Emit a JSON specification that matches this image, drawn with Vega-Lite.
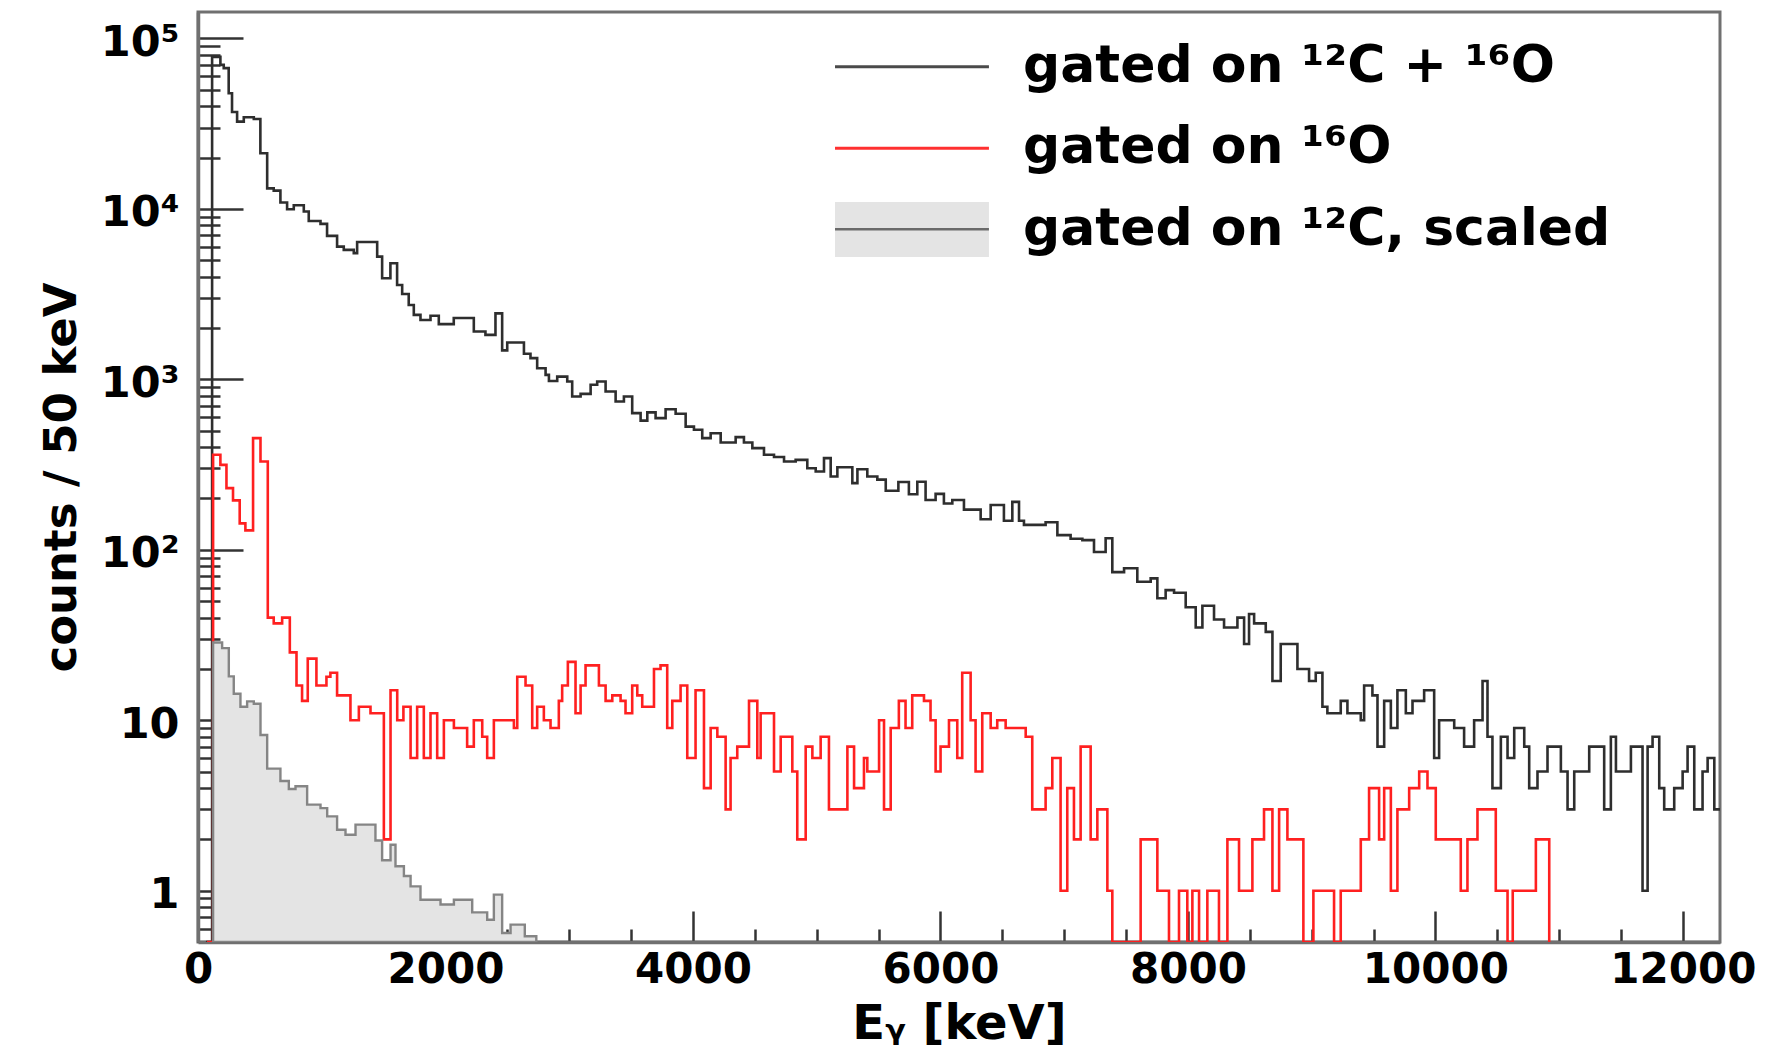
{
  "$schema": "https://vega.github.io/schema/vega-lite/v6.json",
  "width": 1522,
  "height": 930,
  "autosize": {"type": "none"},
  "padding": {"left": 198, "top": 12, "right": 56, "bottom": 110},
  "background": "white",
  "datasets": {
    "co": [
      {"E":64,"n":0},{"E":114,"n":78000},{"E":181,"n":70000},{"E":208,"n":67000},{"E":248,"n":47700},{"E":275,"n":37000},{"E":316,"n":32500},{"E":370,"n":34500},{"E":451,"n":33700},{"E":504,"n":21200},{"E":559,"n":13200},{"E":612,"n":12800},{"E":666,"n":10900},{"E":720,"n":9950},{"E":774,"n":10500},{"E":855,"n":9650},{"E":895,"n":8500},{"E":990,"n":8170},{"E":1043,"n":6950},{"E":1124,"n":6010},{"E":1178,"n":5750},{"E":1259,"n":5500},{"E":1286,"n":6400},{"E":1448,"n":5250},{"E":1488,"n":3920},{"E":1555,"n":4800},{"E":1609,"n":3580},{"E":1650,"n":3170},{"E":1703,"n":2730},{"E":1744,"n":2390},{"E":1798,"n":2230},{"E":1879,"n":2360},{"E":1946,"n":2110},{"E":2067,"n":2290},{"E":2229,"n":1910},{"E":2323,"n":1825},{"E":2404,"n":2440},{"E":2458,"n":1480},{"E":2499,"n":1645},{"E":2634,"n":1412},{"E":2687,"n":1332},{"E":2741,"n":1163},{"E":2809,"n":1062},{"E":2836,"n":979},{"E":2903,"n":1038},{"E":2984,"n":971},{"E":3024,"n":793},{"E":3092,"n":822},{"E":3173,"n":929},{"E":3226,"n":971},{"E":3294,"n":848},{"E":3375,"n":741},{"E":3442,"n":793},{"E":3509,"n":634},{"E":3577,"n":573},{"E":3631,"n":640},{"E":3698,"n":592},{"E":3779,"n":668},{"E":3860,"n":628},{"E":3941,"n":528},{"E":4008,"n":506},{"E":4075,"n":452},{"E":4143,"n":483},{"E":4224,"n":426},{"E":4345,"n":458},{"E":4412,"n":426},{"E":4480,"n":395},{"E":4574,"n":361},{"E":4655,"n":350},{"E":4736,"n":330},{"E":4830,"n":337},{"E":4924,"n":301},{"E":4992,"n":288},{"E":5059,"n":345},{"E":5113,"n":269},{"E":5167,"n":305},{"E":5288,"n":246},{"E":5329,"n":297},{"E":5409,"n":269},{"E":5490,"n":258},{"E":5558,"n":222},{"E":5660,"n":250},{"E":5745,"n":212},{"E":5813,"n":251},{"E":5880,"n":196},{"E":5961,"n":213},{"E":6028,"n":187},{"E":6096,"n":196},{"E":6190,"n":172},{"E":6325,"n":151},{"E":6406,"n":183},{"E":6513,"n":148},{"E":6581,"n":191},{"E":6635,"n":148},{"E":6675,"n":140},{"E":6850,"n":145},{"E":6945,"n":122},{"E":7052,"n":116},{"E":7147,"n":114},{"E":7241,"n":97},{"E":7335,"n":117},{"E":7389,"n":74},{"E":7484,"n":78},{"E":7591,"n":65},{"E":7699,"n":68},{"E":7753,"n":52},{"E":7820,"n":58},{"E":7888,"n":56},{"E":7982,"n":46},{"E":8063,"n":35},{"E":8117,"n":47},{"E":8211,"n":39},{"E":8292,"n":35},{"E":8400,"n":40},{"E":8454,"n":28},{"E":8494,"n":42},{"E":8535,"n":37},{"E":8629,"n":33},{"E":8683,"n":17},{"E":8750,"n":28},{"E":8885,"n":20},{"E":8979,"n":17},{"E":9033,"n":19},{"E":9087,"n":12},{"E":9127,"n":11},{"E":9235,"n":13},{"E":9289,"n":11},{"E":9397,"n":10},{"E":9424,"n":16},{"E":9491,"n":14},{"E":9532,"n":7},{"E":9586,"n":13},{"E":9640,"n":9},{"E":9693,"n":15},{"E":9761,"n":11},{"E":9815,"n":13},{"E":9909,"n":15},{"E":9990,"n":6},{"E":10030,"n":10},{"E":10152,"n":9},{"E":10232,"n":7},{"E":10313,"n":10},{"E":10381,"n":17},{"E":10421,"n":8},{"E":10461,"n":4},{"E":10529,"n":8},{"E":10583,"n":6},{"E":10637,"n":9},{"E":10718,"n":7},{"E":10758,"n":4},{"E":10825,"n":5},{"E":10906,"n":7},{"E":11014,"n":5},{"E":11068,"n":3},{"E":11122,"n":5},{"E":11176,"n":5},{"E":11243,"n":7},{"E":11364,"n":3},{"E":11418,"n":8},{"E":11459,"n":5},{"E":11580,"n":7},{"E":11674,"n":1},{"E":11715,"n":7},{"E":11755,"n":8},{"E":11809,"n":4},{"E":11849,"n":3},{"E":11930,"n":4},{"E":11998,"n":5},{"E":12038,"n":7},{"E":12092,"n":3},{"E":12159,"n":5},{"E":12200,"n":6},{"E":12254,"n":3},{"E":12300,"n":3}
    ],
    "o": [
      {"E":72,"n":0},{"E":122,"n":361},{"E":181,"n":315},{"E":230,"n":230},{"E":283,"n":195},{"E":337,"n":143},{"E":383,"n":130},{"E":445,"n":452},{"E":505,"n":330},{"E":564,"n":40},{"E":612,"n":37},{"E":680,"n":40},{"E":742,"n":25},{"E":796,"n":16},{"E":841,"n":13},{"E":887,"n":23},{"E":957,"n":16},{"E":1038,"n":18},{"E":1070,"n":19},{"E":1124,"n":14},{"E":1232,"n":10},{"E":1300,"n":12},{"E":1394,"n":11},{"E":1502,"n":2},{"E":1556,"n":15},{"E":1610,"n":10},{"E":1660,"n":12},{"E":1718,"n":6},{"E":1771,"n":12},{"E":1825,"n":6},{"E":1879,"n":11},{"E":1933,"n":6},{"E":1987,"n":10},{"E":2068,"n":9},{"E":2175,"n":7},{"E":2229,"n":10},{"E":2297,"n":8},{"E":2337,"n":6},{"E":2391,"n":10},{"E":2553,"n":9},{"E":2580,"n":18},{"E":2647,"n":16},{"E":2701,"n":9},{"E":2741,"n":12},{"E":2795,"n":10},{"E":2849,"n":9},{"E":2916,"n":13},{"E":2943,"n":16},{"E":2989,"n":22},{"E":3051,"n":11},{"E":3092,"n":16},{"E":3132,"n":21},{"E":3240,"n":16},{"E":3294,"n":13},{"E":3348,"n":14},{"E":3415,"n":13},{"E":3455,"n":11},{"E":3509,"n":16},{"E":3550,"n":14},{"E":3590,"n":12},{"E":3685,"n":20},{"E":3738,"n":21},{"E":3792,"n":9},{"E":3833,"n":13},{"E":3900,"n":16},{"E":3954,"n":6},{"E":4021,"n":15},{"E":4089,"n":4},{"E":4143,"n":9},{"E":4197,"n":8},{"E":4264,"n":3},{"E":4304,"n":6},{"E":4358,"n":7},{"E":4453,"n":13},{"E":4520,"n":6},{"E":4547,"n":11},{"E":4655,"n":5},{"E":4709,"n":8},{"E":4803,"n":5},{"E":4843,"n":2},{"E":4911,"n":7},{"E":4965,"n":6},{"E":5032,"n":8},{"E":5099,"n":3},{"E":5248,"n":7},{"E":5302,"n":4},{"E":5382,"n":6},{"E":5409,"n":5},{"E":5504,"n":10},{"E":5544,"n":3},{"E":5598,"n":9},{"E":5664,"n":13},{"E":5718,"n":9},{"E":5772,"n":14},{"E":5867,"n":13},{"E":5920,"n":10},{"E":5961,"n":5},{"E":6001,"n":7},{"E":6069,"n":10},{"E":6136,"n":6},{"E":6176,"n":19},{"E":6244,"n":10},{"E":6284,"n":5},{"E":6338,"n":11},{"E":6406,"n":9},{"E":6459,"n":10},{"E":6527,"n":9},{"E":6689,"n":8},{"E":6742,"n":3},{"E":6850,"n":4},{"E":6904,"n":6},{"E":6971,"n":1},{"E":7025,"n":4},{"E":7079,"n":2},{"E":7133,"n":7},{"E":7214,"n":2},{"E":7268,"n":3},{"E":7349,"n":1},{"E":7389,"n":0},{"E":7618,"n":2},{"E":7753,"n":1},{"E":7847,"n":0},{"E":7928,"n":1},{"E":7995,"n":0},{"E":8036,"n":1},{"E":8090,"n":0},{"E":8157,"n":1},{"E":8251,"n":0},{"E":8319,"n":2},{"E":8413,"n":1},{"E":8521,"n":2},{"E":8615,"n":3},{"E":8683,"n":1},{"E":8737,"n":3},{"E":8804,"n":2},{"E":8933,"n":0},{"E":9014,"n":1},{"E":9181,"n":0},{"E":9235,"n":1},{"E":9397,"n":2},{"E":9464,"n":4},{"E":9545,"n":2},{"E":9586,"n":4},{"E":9640,"n":1},{"E":9693,"n":3},{"E":9788,"n":4},{"E":9869,"n":5},{"E":9936,"n":4},{"E":10003,"n":2},{"E":10205,"n":1},{"E":10259,"n":2},{"E":10340,"n":3},{"E":10488,"n":1},{"E":10583,"n":0},{"E":10625,"n":1},{"E":10812,"n":2},{"E":10920,"n":0}
    ],
    "c": [
      {"E":122,"n":28.6},{"E":195,"n":26.5},{"E":249,"n":18.1},{"E":289,"n":14.3},{"E":343,"n":12.0},{"E":397,"n":12.9},{"E":451,"n":12.5},{"E":505,"n":8.2},{"E":559,"n":5.2},{"E":666,"n":4.4},{"E":734,"n":3.95},{"E":788,"n":4.1},{"E":882,"n":3.2},{"E":990,"n":3.05},{"E":1044,"n":2.73},{"E":1124,"n":2.28},{"E":1192,"n":2.13},{"E":1273,"n":2.44},{"E":1434,"n":1.97},{"E":1488,"n":1.51},{"E":1556,"n":1.86},{"E":1596,"n":1.39},{"E":1664,"n":1.22},{"E":1718,"n":1.06},{"E":1798,"n":0.885},{"E":1960,"n":0.83},{"E":2068,"n":0.885},{"E":2216,"n":0.746},{"E":2337,"n":0.676},{"E":2391,"n":0.948},{"E":2458,"n":0.565},{"E":2526,"n":0.632},{"E":2641,"n":0.54},{"E":2734,"n":0}
    ]
  },
  "layer": [
    {
      "data": {"name": "co"},
      "mark": {"type": "line", "interpolate": "step-after", "color": "#2e2e2e", "strokeWidth": 2.6, "clip": true},
      "encoding": {
        "x": {
          "field": "E", "type": "quantitative", "title": "Eᵧ [keV]",
          "scale": {"domain": [0, 12300], "nice": false, "zero": false},
          "axis": {
            "values": [0,500,1000,1500,2000,2500,3000,3500,4000,4500,5000,5500,6000,6500,7000,7500,8000,8500,9000,9500,10000,10500,11000,11500,12000],
            "labelExpr": "datum.value % 2000 === 0 ? format(datum.value, 'd') : ''",
            "tickSize": {"condition": {"test": "datum.value % 2000 === 0", "value": -31}, "value": -13},
            "labelPadding": {"condition": {"test": "datum.value % 2000 === 0", "value": 38}, "value": 20},
            "labelFontSize": 42,
            "titleFontSize": 48,
            "titlePadding": 10
          }
        },
        "y": {
          "field": "n", "type": "quantitative", "title": "counts / 50 keV",
          "scale": {"type": "log", "domain": [0.5, 143000], "clamp": true, "nice": false},
          "axis": {
            "values": [0.6,0.7,0.8,0.9,1,2,3,4,5,6,7,8,9,10,20,30,40,50,60,70,80,90,100,200,300,400,500,600,700,800,900,1000,2000,3000,4000,5000,6000,7000,8000,9000,10000,20000,30000,40000,50000,60000,70000,80000,90000,100000],
            "labelExpr": "datum.value === 100000 ? '10⁵' : datum.value === 10000 ? '10⁴' : datum.value === 1000 ? '10³' : datum.value === 100 ? '10²' : datum.value === 10 ? '10' : datum.value === 1 ? '1' : ''",
            "tickSize": {"condition": {"test": "indexof([1,10,100,1000,10000,100000], datum.value) >= 0", "value": -45}, "value": -22},
            "labelPadding": 64,
            "labelOffset": 4,
            "labelFontSize": 43,
            "titleFontSize": 45,
            "titlePadding": 16
          }
        }
      }
    },
    {
      "data": {"name": "o"},
      "mark": {"type": "line", "interpolate": "step-after", "color": "#ff2020", "strokeWidth": 2.6, "clip": true},
      "encoding": {
        "x": {"field": "E", "type": "quantitative", "title": "Eᵧ [keV]"},
        "y": {"field": "n", "type": "quantitative", "title": "counts / 50 keV"}
      }
    },
    {
      "data": {"name": "c"},
      "mark": {"type": "area", "interpolate": "step-after", "fill": "#e4e4e4", "stroke": "#858585", "strokeWidth": 2.4, "clip": true},
      "encoding": {
        "x": {"field": "E", "type": "quantitative", "title": "Eᵧ [keV]"},
        "y": {"field": "n", "type": "quantitative", "title": "counts / 50 keV"},
        "y2": {"datum": 0.5}
      }
    },
    {
      "data": {"values": [{}]},
      "mark": {"type": "rule", "color": "#4a4a4a", "strokeWidth": 3},
      "encoding": {
        "x": {"datum": 5148, "type": "quantitative", "title": "Eᵧ [keV]"},
        "x2": {"datum": 6392},
        "y": {"datum": 68300, "type": "quantitative", "title": "counts / 50 keV"}
      }
    },
    {
      "data": {"values": [{}]},
      "mark": {"type": "rule", "color": "#ff3030", "strokeWidth": 3},
      "encoding": {
        "x": {"datum": 5148, "type": "quantitative", "title": "Eᵧ [keV]"},
        "x2": {"datum": 6392},
        "y": {"datum": 22680, "type": "quantitative", "title": "counts / 50 keV"}
      }
    },
    {
      "data": {"values": [{}]},
      "mark": {"type": "rect", "color": "#e4e4e4"},
      "encoding": {
        "x": {"datum": 5148, "type": "quantitative", "title": "Eᵧ [keV]"},
        "x2": {"datum": 6392},
        "y": {"datum": 10980, "type": "quantitative", "title": "counts / 50 keV"},
        "y2": {"datum": 5222}
      }
    },
    {
      "data": {"values": [{}]},
      "mark": {"type": "rule", "color": "#6a6a6a", "strokeWidth": 2.4},
      "encoding": {
        "x": {"datum": 5148, "type": "quantitative", "title": "Eᵧ [keV]"},
        "x2": {"datum": 6392},
        "y": {"datum": 7595, "type": "quantitative", "title": "counts / 50 keV"}
      }
    },
    {
      "data": {"values": [{}]},
      "mark": {"type": "text", "align": "left", "baseline": "alphabetic", "font": "DejaVu Sans", "fontWeight": "bold", "fontSize": 52, "color": "black"},
      "encoding": {
        "x": {"datum": 6667, "type": "quantitative", "title": "Eᵧ [keV]"},
        "y": {"datum": 55780, "type": "quantitative", "title": "counts / 50 keV"},
        "text": {"value": "gated on ¹²C + ¹⁶O"}
      }
    },
    {
      "data": {"values": [{}]},
      "mark": {"type": "text", "align": "left", "baseline": "alphabetic", "font": "DejaVu Sans", "fontWeight": "bold", "fontSize": 52, "color": "black"},
      "encoding": {
        "x": {"datum": 6667, "type": "quantitative", "title": "Eᵧ [keV]"},
        "y": {"datum": 18520, "type": "quantitative", "title": "counts / 50 keV"},
        "text": {"value": "gated on ¹⁶O"}
      }
    },
    {
      "data": {"values": [{}]},
      "mark": {"type": "text", "align": "left", "baseline": "alphabetic", "font": "DejaVu Sans", "fontWeight": "bold", "fontSize": 52, "color": "black"},
      "encoding": {
        "x": {"datum": 6667, "type": "quantitative", "title": "Eᵧ [keV]"},
        "y": {"datum": 6141, "type": "quantitative", "title": "counts / 50 keV"},
        "text": {"value": "gated on ¹²C, scaled"}
      }
    }
  ],
  "config": {
    "font": "DejaVu Sans",
    "view": {"stroke": "#707070", "strokeWidth": 3},
    "axis": {
      "grid": false,
      "labelFont": "DejaVu Sans",
      "labelFontWeight": "bold",
      "labelFontSize": 42,
      "labelColor": "black",
      "labelFlush": false,
      "labelOverlap": false,
      "labelBound": false,
      "titleFont": "DejaVu Sans",
      "titleFontWeight": "bold",
      "titleColor": "black",
      "domainColor": "#707070",
      "domainWidth": 3.5,
      "tickColor": "#333333",
      "tickWidth": 2.5,
      "zindex": 1
    }
  }
}
